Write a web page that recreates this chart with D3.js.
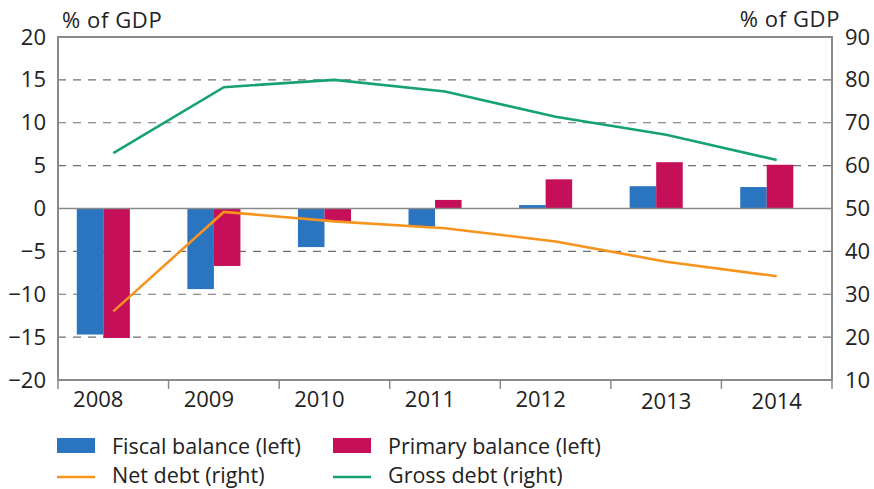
<!DOCTYPE html>
<html>
<head>
<meta charset="utf-8">
<script src="https://cdn.jsdelivr.net/npm/d3@7"></script>
<style>
  html, body { margin: 0; padding: 0; background: #ffffff; }
  svg { display: block; }
  text { font-family: "Open Sans", "Noto Sans", sans-serif; fill: #222; }
</style>
</head>
<body>
<svg id="chart" width="874" height="489"></svg>
<script>
const years = ["2008", "2009", "2010", "2011", "2012", "2013", "2014"];
const fiscalBalance = [-14.7, -9.4, -4.5, -2.1, 0.4, 2.6, 2.5];
const primaryBalance = [-15.1, -6.7, -1.5, 1.0, 3.4, 5.4, 5.1];
const netDebt = [26.0, 49.2, 47.0, 45.4, 42.3, 37.6, 34.2];
const grossDebt = [62.9, 78.3, 80.0, 77.3, 71.4, 67.2, 61.3];
const leftTicks = [-20, -15, -10, -5, 0, 5, 10, 15, 20];
const rightTicks = [10, 20, 30, 40, 50, 60, 70, 80, 90];
const gridTicks = [-15, -10, -5, 5, 10, 15];
const axisTitle = "% of GDP";
const legendItems = [
  { label: "Fiscal balance (left)", type: "rect", color: "#2a74c0" },
  { label: "Primary balance (left)", type: "rect", color: "#c50f58" },
  { label: "Net debt (right)", type: "line", color: "#f7941e" },
  { label: "Gross debt (right)", type: "line", color: "#17a273" }
];

const svg = d3.select("#chart");
const L = 58, R = 832, T = 37, B = 380;
const frameColor = "#8a8a8a";

const x = d3.scaleBand().domain(years).range([L, R]);
const bw = x.bandwidth();
const yL = d3.scaleLinear().domain([-20, 20]).range([B, T]);
const yR = d3.scaleLinear().domain([10, 90]).range([B, T]);

// gridlines
svg.append("g").selectAll("line").data(gridTicks).join("line")
  .attr("x1", L).attr("x2", R)
  .attr("y1", d => yL(d)).attr("y2", d => yL(d))
  .attr("stroke", "#6f6f6f").attr("stroke-width", 1.2)
  .attr("stroke-dasharray", "8,7");

// bars
const barW = bw * 0.24, barOff = bw * 0.17;
svg.append("g").selectAll("rect").data(years).join("rect")
  .attr("x", d => x(d) + barOff)
  .attr("width", barW)
  .attr("y", (d, i) => yL(Math.max(0, fiscalBalance[i])))
  .attr("height", (d, i) => Math.abs(yL(fiscalBalance[i]) - yL(0)))
  .attr("fill", legendItems[0].color);
svg.append("g").selectAll("rect").data(years).join("rect")
  .attr("x", d => x(d) + barOff + barW)
  .attr("width", barW)
  .attr("y", (d, i) => yL(Math.max(0, primaryBalance[i])))
  .attr("height", (d, i) => Math.abs(yL(primaryBalance[i]) - yL(0)))
  .attr("fill", legendItems[1].color);

// zero line
svg.append("line").attr("x1", L).attr("x2", R)
  .attr("y1", yL(0)).attr("y2", yL(0))
  .attr("stroke", frameColor).attr("stroke-width", 1.5);

// lines
const lineGen = arr => d3.line()
  .x((d, i) => x(years[i]) + bw / 2)
  .y(d => yR(d))(arr);
svg.append("path").attr("d", lineGen(netDebt))
  .attr("fill", "none").attr("stroke", legendItems[2].color).attr("stroke-width", 2.6);
svg.append("path").attr("d", lineGen(grossDebt))
  .attr("fill", "none").attr("stroke", legendItems[3].color).attr("stroke-width", 2.6);

// frame
svg.append("rect").attr("x", L).attr("y", T).attr("width", R - L).attr("height", B - T)
  .attr("fill", "none").attr("stroke", frameColor).attr("stroke-width", 2);

// x ticks
svg.append("g").selectAll("line").data(d3.range(years.length + 1)).join("line")
  .attr("x1", i => L + i * bw).attr("x2", i => L + i * bw)
  .attr("y1", B).attr("y2", B + 9)
  .attr("stroke", frameColor).attr("stroke-width", 1.5);

// x labels
svg.append("g").selectAll("text").data(years).join("text")
  .attr("x", (d, i) => x(d) + bw / 2 + (i < 5 ? -15 : 0))
  .attr("y", (d, i) => i < 5 ? 407 : 409)
  .attr("text-anchor", "middle")
  .attr("font-size", 22)
  .text(d => d);

// left axis
const gl = svg.append("g").attr("transform", `translate(${L},0)`)
  .call(d3.axisLeft(yL).tickValues(leftTicks).tickSize(0).tickPadding(12).tickFormat(d3.format("d")));
gl.select(".domain").remove();
gl.selectAll("text").attr("font-size", 22).attr("font-family", "Open Sans").attr("fill", "#222");

// right axis
const gr = svg.append("g").attr("transform", `translate(${R},0)`)
  .call(d3.axisRight(yR).tickValues(rightTicks).tickSize(0).tickPadding(13).tickFormat(d3.format("d")));
gr.select(".domain").remove();
gr.selectAll("text").attr("font-size", 22).attr("font-family", "Open Sans").attr("fill", "#222");

// axis titles
svg.append("text").attr("x", 62).attr("y", 28).attr("font-size", 22).attr("letter-spacing", 0.6).text(axisTitle);
svg.append("text").attr("x", 840).attr("y", 27).attr("text-anchor", "end").attr("font-size", 22).attr("letter-spacing", 0.6).text(axisTitle);

// legend
const legPos = [[57, 0], [333, 0], [57, 1], [333, 1]];
const lg = svg.append("g");
legendItems.forEach((it, i) => {
  const [lx, row] = legPos[i];
  const cy = 446 + row * 30;
  if (it.type === "rect") {
    lg.append("rect").attr("x", lx).attr("y", cy - 8).attr("width", 38).attr("height", 15).attr("fill", it.color);
  } else {
    lg.append("line").attr("x1", lx).attr("x2", lx + 38).attr("y1", cy + 1).attr("y2", cy + 1)
      .attr("stroke", it.color).attr("stroke-width", 2.5);
  }
  lg.append("text").attr("x", lx + 55).attr("y", cy + 8 - row * 1).attr("font-size", 21.5).text(it.label);
});
</script>
</body>
</html>
